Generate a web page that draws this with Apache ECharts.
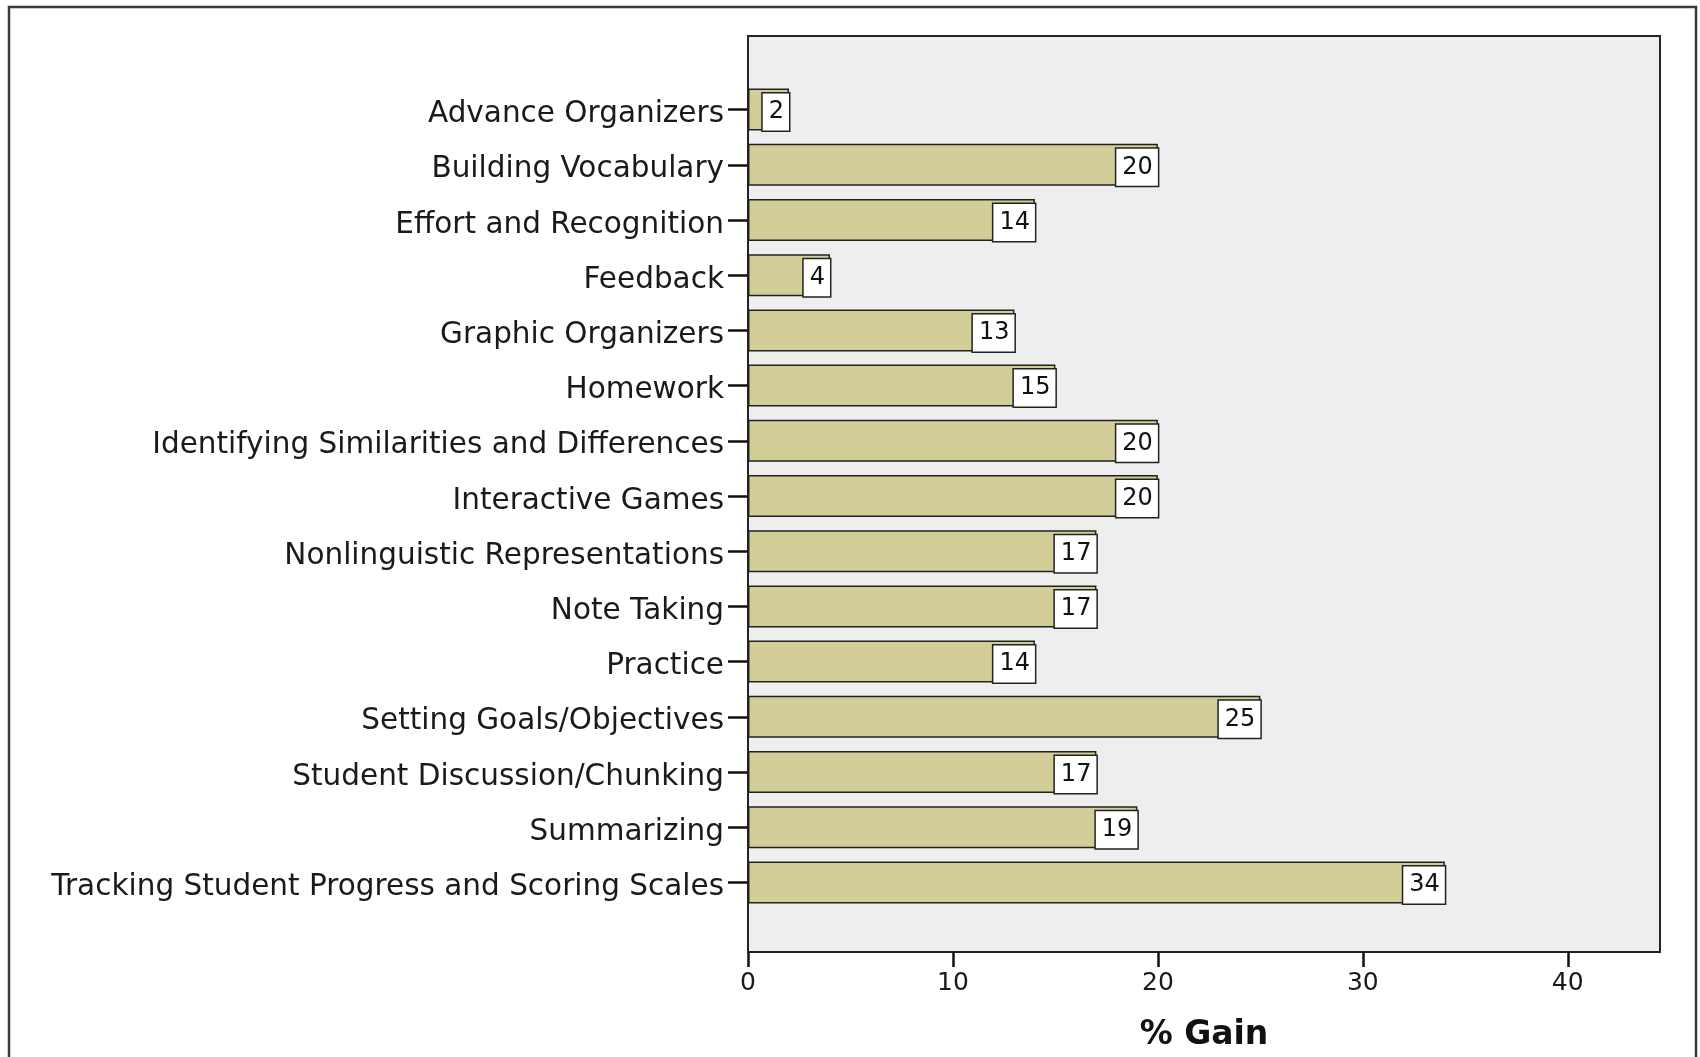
<!DOCTYPE html>
<html>
<head>
<meta charset="utf-8">
<title>% Gain by Strategy</title>
<script src="https://cdn.jsdelivr.net/npm/echarts@6/dist/echarts.min.js"></script>
<style>
  html, body { margin: 0; padding: 0; background: #ffffff; }
  #chart { width: 1700px; height: 1057px; }
</style>
</head>
<body>
<div id="chart"></div>
<script>
// Instructional strategies, top to bottom
const categories = [
  'Advance Organizers',
  'Building Vocabulary',
  'Effort and Recognition',
  'Feedback',
  'Graphic Organizers',
  'Homework',
  'Identifying Similarities and Differences',
  'Interactive Games',
  'Nonlinguistic Representations',
  'Note Taking',
  'Practice',
  'Setting Goals/Objectives',
  'Student Discussion/Chunking',
  'Summarizing',
  'Tracking Student Progress and Scoring Scales'
];

// Percentage gain for each strategy
const gains = [2, 20, 14, 4, 13, 15, 20, 20, 17, 17, 14, 25, 17, 19, 34];

// Value axis ticks
const xTicks = [0, 10, 20, 30, 40];
const xMax = 44.5;
const xName = '% Gain';

const FONT = 'DejaVu Sans';
const INK = '#1a1a1a';

const chart = echarts.init(document.getElementById('chart'), null, { renderer: 'canvas' });

const option = {
  backgroundColor: '#ffffff',
  animation: false,
  graphic: [
    {
      type: 'rect',
      shape: { x: 9, y: 7, width: 1687, height: 1100 },
      style: { fill: 'none', stroke: '#3a3a3a', lineWidth: 2.5 },
      silent: true,
      z: 100
    }
  ],
  grid: [
    // plot frame with the value axis
    {
      left: 748, right: 40, top: 36, bottom: 102,
      show: true,
      backgroundColor: '#eeeeee',
      borderColor: '#222222',
      borderWidth: 2,
      containLabel: false
    },
    // band area holding the bars
    {
      left: 748, right: 40, top: 82, bottom: 147,
      containLabel: false
    }
  ],
  xAxis: [
    {
      gridIndex: 0,
      type: 'value',
      min: xTicks[0],
      max: xMax,
      interval: xTicks[1] - xTicks[0],
      splitLine: { show: false },
      axisLine: { show: true, lineStyle: { color: '#222222', width: 2 } },
      axisTick: { show: true, length: 15, lineStyle: { color: '#111111', width: 2.5 } },
      axisLabel: {
        show: true,
        margin: 19,
        fontFamily: FONT,
        fontSize: 25,
        color: INK,
        showMaxLabel: false,
        formatter: v => (xTicks.indexOf(v) >= 0 ? String(v) : '')
      },
      name: xName,
      nameLocation: 'middle',
      nameGap: 67,
      nameTextStyle: { fontFamily: FONT, fontSize: 33, fontWeight: 'bold', color: '#111111' }
    },
    {
      gridIndex: 1,
      type: 'value',
      min: xTicks[0],
      max: xMax,
      show: false,
      splitLine: { show: false }
    }
  ],
  yAxis: [
    {
      gridIndex: 0,
      type: 'value',
      show: false,
      splitLine: { show: false }
    },
    {
      gridIndex: 1,
      type: 'category',
      inverse: true,
      data: categories,
      axisLine: { show: false },
      axisTick: {
        show: true,
        alignWithLabel: true,
        length: 20,
        lineStyle: { color: '#111111', width: 2.5 }
      },
      axisLabel: {
        margin: 24,
        fontFamily: FONT,
        fontSize: 29.5,
        color: INK,
        // a short line box hung from the tick sits the text slightly below it
        verticalAlign: 'top',
        lineHeight: 10
      },
      splitLine: { show: false }
    }
  ],
  series: [
    {
      type: 'bar',
      xAxisIndex: 1,
      yAxisIndex: 1,
      data: gains,
      barWidth: 42,
      itemStyle: {
        color: '#d3cd97',
        borderColor: '#222222',
        borderWidth: 1.5
      },
      label: {
        show: true,
        position: 'insideRight',
        distance: 0,
        offset: [0, 2.5],
        fontFamily: FONT,
        fontSize: 24,
        color: '#111111',
        lineHeight: 24,
        backgroundColor: '#ffffff',
        borderColor: '#222222',
        borderWidth: 1.5,
        padding: [7, 5, 6, 6]
      }
    }
  ]
};

chart.setOption(option);
</script>
</body>
</html>
